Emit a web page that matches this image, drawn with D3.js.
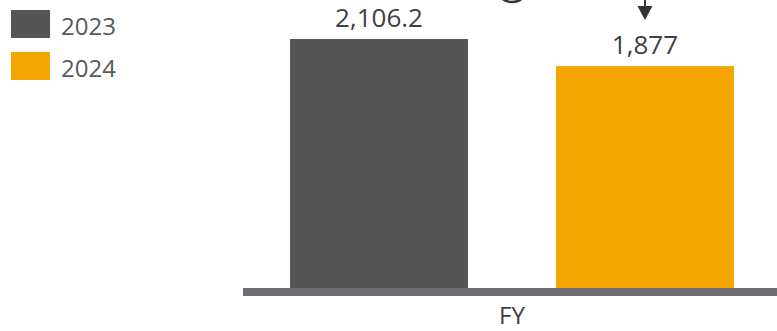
<!DOCTYPE html>
<html>
<head>
<meta charset="utf-8">
<script src="https://cdn.jsdelivr.net/npm/d3@7"></script>
<style>
  html, body { margin: 0; padding: 0; background: #fff; }
  svg { display: block; font-family: "Open Sans", "Noto Sans", sans-serif; }
</style>
</head>
<body>
<svg id="chart" width="777" height="331"></svg>
<script>
// Full-year totals by year
const categories = ["FY"];
const seriesNames = ["2023", "2024"];
const seriesValues = [2106.2, 1877];
const valueLabels = ["2,106.2", "1,877"];
const seriesColors = ["#555555", "#F5A500"];

const svg = d3.select("#chart");
const W = 777, H = 331;
const baseY = 288;

// One band per series inside the single FY group
const x = d3.scaleBand()
  .domain(seriesNames)
  .range([243, 781])
  .paddingInner(0.331)
  .paddingOuter(0.177);

const y = d3.scaleLinear()
  .domain([0, d3.max(seriesValues)])
  .range([baseY, 39]);

// Bars
svg.append("g").selectAll("rect")
  .data(seriesNames)
  .join("rect")
  .attr("x", d => x(d))
  .attr("width", x.bandwidth())
  .attr("y", (d, i) => y(seriesValues[i]))
  .attr("height", (d, i) => baseY - y(seriesValues[i]))
  .attr("fill", (d, i) => seriesColors[i]);

// Value labels above bars
svg.append("g").selectAll("text")
  .data(seriesNames)
  .join("text")
  .attr("x", d => x(d) + x.bandwidth() / 2)
  .attr("y", (d, i) => y(seriesValues[i]) - 12)
  .attr("text-anchor", "middle")
  .attr("font-size", 26)
  .attr("fill", "#404040")
  .text((d, i) => valueLabels[i]);

// Category axis: thick baseline and category label
const axis = d3.axisBottom(x).tickSize(0).tickFormat("");
const axisG = svg.append("g")
  .attr("transform", `translate(0,${baseY})`)
  .call(axis);
axisG.select(".domain").remove();
svg.append("rect")
  .attr("x", 243)
  .attr("y", baseY)
  .attr("width", W - 243)
  .attr("height", 8)
  .attr("fill", "#6e6d77");
svg.append("text")
  .attr("x", (x.range()[0] + x.range()[1]) / 2)
  .attr("y", 324)
  .attr("text-anchor", "middle")
  .attr("font-size", 24)
  .attr("fill", "#404040")
  .text(categories[0]);

// Decorations at top edge: arc and down arrow
svg.append("ellipse")
  .attr("cx", 512).attr("cy", -16)
  .attr("rx", 17).attr("ry", 18)
  .attr("fill", "none")
  .attr("stroke", "#333")
  .attr("stroke-width", 2.5);
const arrowX = x(seriesNames[1]) + x.bandwidth() / 2;
svg.append("line")
  .attr("x1", arrowX).attr("x2", arrowX)
  .attr("y1", 0).attr("y2", 8)
  .attr("stroke", "#333")
  .attr("stroke-width", 2);
svg.append("path")
  .attr("d", `M${arrowX - 7.5},6 L${arrowX + 7.5},6 L${arrowX},20 Z`)
  .attr("fill", "#333");

// Legend
const legend = svg.append("g").selectAll("g")
  .data(seriesNames)
  .join("g")
  .attr("transform", (d, i) => `translate(11,${10 + i * 42})`);
legend.append("rect")
  .attr("width", 39)
  .attr("height", 28)
  .attr("fill", (d, i) => seriesColors[i]);
legend.append("text")
  .attr("x", 50)
  .attr("y", 25)
  .attr("font-size", 24)
  .attr("fill", "#595959")
  .text(d => d);
</script>
</body>
</html>
